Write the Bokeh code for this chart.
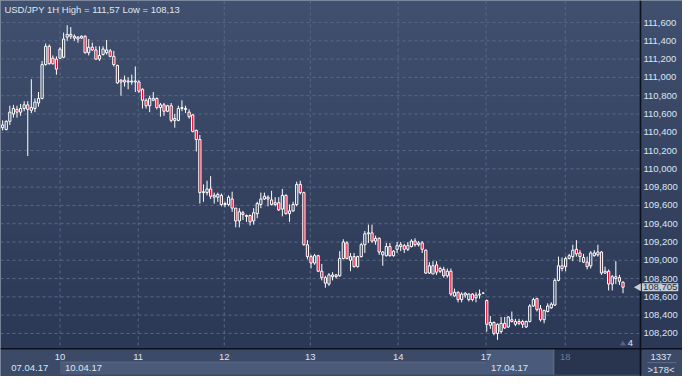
import numpy as np
from bokeh.plotting import figure
from bokeh.models import Range1d, Label, ColumnDataSource
from bokeh.core.properties import value
from bokeh.embed import file_html
from bokeh.resources import INLINE

# ---------------- data (USD/JPY 1H candles) ----------------
opens = [110.45, 110.43, 110.52, 110.60, 110.65, 110.62, 110.66, 110.70, 110.64, 110.66,
         110.72, 110.77, 111.14, 111.34, 111.21, 111.20, 111.21, 111.22, 111.44, 111.47,
         111.45, 111.42, 111.43, 111.45, 111.27, 111.33, 111.30, 111.20, 111.25, 111.27,
         111.29, 111.23, 111.13, 110.95, 110.97, 110.95, 110.95, 110.96, 110.95, 110.87,
         110.75, 110.69, 110.75, 110.77, 110.67, 110.70, 110.63, 110.69, 110.53, 110.53,
         110.66, 110.65, 110.62, 110.59, 110.42, 110.32, 109.74, 109.74, 109.78, 109.69,
         109.69, 109.71, 109.61, 109.61, 109.67, 109.57, 109.43, 109.52, 109.49, 109.49,
         109.43, 109.51, 109.61, 109.67, 109.69, 109.66, 109.61, 109.63, 109.56, 109.71,
         109.51, 109.54, 109.61, 109.83, 109.74, 109.17, 109.04, 108.97, 109.05, 108.88,
         108.81, 108.74, 108.82, 108.84, 108.83, 109.02, 109.19, 109.00, 109.04, 108.93,
         109.04, 109.17, 109.29, 109.30, 109.21, 109.24, 109.06, 109.05, 109.15, 109.05,
         109.12, 109.15, 109.16, 109.12, 109.15, 109.21, 109.17, 109.19, 109.11, 108.86,
         108.85, 108.95, 108.88, 108.90, 108.83, 108.88, 108.61, 108.65, 108.57, 108.62,
         108.57, 108.63, 108.59, 108.62, 108.64, 108.56, 108.29, 108.32, 108.20, 108.22,
         108.31, 108.27, 108.35, 108.30, 108.33, 108.33, 108.27, 108.33, 108.50, 108.58,
         108.47, 108.35, 108.44, 108.48, 108.51, 108.78, 108.94, 108.93, 109.02, 109.04,
         109.12, 109.08, 108.98, 108.98, 108.94, 109.05, 109.06, 109.09, 108.86, 108.88,
         108.74, 108.80, 108.81, 108.76]
highs = [110.53, 110.53, 110.69, 110.70, 110.69, 110.71, 110.74, 110.74, 110.98, 110.77,
         110.84, 111.18, 111.37, 111.36, 111.24, 111.23, 111.33, 111.49, 111.57, 111.55,
         111.47, 111.45, 111.46, 111.46, 111.42, 111.38, 111.34, 111.34, 111.34, 111.41,
         111.31, 111.29, 111.14, 110.98, 111.02, 111.00, 111.03, 111.12, 110.97, 110.88,
         110.77, 110.80, 110.84, 110.78, 110.72, 110.72, 110.70, 110.72, 110.60, 110.69,
         110.75, 110.69, 110.65, 110.60, 110.43, 110.37, 109.83, 109.87, 109.92, 109.74,
         109.74, 109.73, 109.64, 109.71, 109.75, 109.57, 109.57, 109.54, 109.50, 109.50,
         109.57, 109.64, 109.74, 109.74, 109.71, 109.76, 109.69, 109.69, 109.78, 109.72,
         109.61, 109.64, 109.86, 109.87, 109.75, 109.22, 109.06, 109.07, 109.06, 108.96,
         108.83, 108.86, 108.87, 108.85, 109.10, 109.23, 109.21, 109.08, 109.08, 109.05,
         109.19, 109.32, 109.39, 109.39, 109.27, 109.25, 109.10, 109.19, 109.19, 109.11,
         109.20, 109.20, 109.18, 109.20, 109.23, 109.24, 109.21, 109.21, 109.12, 108.98,
         108.99, 108.99, 108.93, 108.93, 108.91, 108.91, 108.69, 108.66, 108.65, 108.65,
         108.64, 108.64, 108.65, 108.68, 108.65, 108.57, 108.39, 108.33, 108.31, 108.38,
         108.38, 108.39, 108.44, 108.36, 108.36, 108.35, 108.34, 108.52, 108.59, 108.59,
         108.51, 108.46, 108.53, 108.54, 108.80, 109.04, 109.03, 109.04, 109.07, 109.17,
         109.22, 109.11, 109.07, 109.04, 109.10, 109.11, 109.17, 109.10, 108.93, 108.90,
         108.84, 108.99, 108.84, 108.77]
lows = [110.42, 110.42, 110.48, 110.56, 110.56, 110.58, 110.63, 110.14, 110.61, 110.62,
        110.68, 110.76, 111.13, 111.14, 111.14, 111.03, 111.20, 111.21, 111.40, 111.42,
        111.40, 111.38, 111.42, 111.26, 111.24, 111.29, 111.19, 111.18, 111.24, 111.25,
        111.22, 111.12, 110.93, 110.80, 110.90, 110.87, 110.92, 110.84, 110.83, 110.66,
        110.66, 110.62, 110.74, 110.65, 110.57, 110.58, 110.62, 110.51, 110.45, 110.52,
        110.63, 110.61, 110.55, 110.40, 110.19, 109.62, 109.64, 109.71, 109.67, 109.62,
        109.64, 109.59, 109.58, 109.59, 109.53, 109.36, 109.36, 109.44, 109.42, 109.38,
        109.39, 109.46, 109.57, 109.66, 109.59, 109.60, 109.59, 109.54, 109.48, 109.50,
        109.42, 109.53, 109.59, 109.72, 109.16, 109.01, 108.91, 108.95, 108.87, 108.78,
        108.70, 108.72, 108.78, 108.80, 108.82, 109.01, 109.01, 108.88, 108.92, 108.92,
        109.03, 109.08, 109.19, 109.19, 109.17, 109.06, 108.94, 109.04, 109.04, 109.04,
        109.08, 109.10, 109.08, 109.10, 109.14, 109.15, 109.15, 109.08, 108.85, 108.85,
        108.85, 108.84, 108.86, 108.81, 108.81, 108.61, 108.60, 108.54, 108.54, 108.59,
        108.55, 108.55, 108.54, 108.58, 108.64, 108.22, 108.25, 108.18, 108.13, 108.20,
        108.25, 108.26, 108.32, 108.28, 108.29, 108.26, 108.26, 108.32, 108.49, 108.44,
        108.33, 108.31, 108.43, 108.47, 108.50, 108.77, 108.88, 108.88, 109.01, 108.99,
        109.04, 108.98, 108.97, 108.90, 108.91, 109.04, 109.04, 108.84, 108.85, 108.67,
        108.67, 108.74, 108.73, 108.64]
closes = [110.48, 110.52, 110.62, 110.66, 110.62, 110.66, 110.70, 110.65, 110.67, 110.73,
          110.77, 111.14, 111.34, 111.15, 111.15, 111.09, 111.31, 111.42, 111.47, 111.45,
          111.43, 111.44, 111.45, 111.27, 111.33, 111.30, 111.20, 111.24, 111.31, 111.30,
          111.23, 111.14, 110.94, 110.97, 110.95, 110.96, 110.96, 110.95, 110.85, 110.75,
          110.69, 110.77, 110.77, 110.67, 110.70, 110.63, 110.69, 110.53, 110.55, 110.66,
          110.67, 110.66, 110.57, 110.41, 110.32, 109.74, 109.75, 109.78, 109.70, 109.71,
          109.72, 109.61, 109.62, 109.69, 109.57, 109.43, 109.53, 109.50, 109.48, 109.42,
          109.52, 109.62, 109.67, 109.70, 109.67, 109.61, 109.63, 109.55, 109.71, 109.51,
          109.54, 109.61, 109.83, 109.74, 109.17, 109.04, 108.97, 109.05, 108.88, 108.81,
          108.75, 108.84, 108.84, 108.82, 109.02, 109.20, 109.02, 109.04, 108.93, 109.04,
          109.17, 109.29, 109.30, 109.21, 109.24, 109.09, 109.09, 109.15, 109.05, 109.10,
          109.16, 109.17, 109.12, 109.16, 109.21, 109.17, 109.19, 109.12, 108.86, 108.94,
          108.94, 108.87, 108.91, 108.83, 108.88, 108.63, 108.65, 108.57, 108.63, 108.64,
          108.63, 108.57, 108.62, 108.63, 108.64, 108.30, 108.32, 108.20, 108.30, 108.31,
          108.26, 108.38, 108.33, 108.33, 108.31, 108.30, 108.33, 108.50, 108.57, 108.46,
          108.35, 108.45, 108.50, 108.52, 108.78, 108.94, 108.91, 109.02, 109.05, 109.11,
          109.07, 109.04, 109.03, 108.93, 109.08, 109.08, 109.09, 108.86, 108.88, 108.74,
          108.82, 108.82, 108.77, 108.705]

day_ticks = [16.0, 37.8, 61.8, 85.8, 110.3, 134.8, 156.9]
day_labels = ["10", "11", "12", "13", "14", "17", "18"]
week_ticks = [1.0, 16.0, 134.8]
week_labels = ["07.04.17", "10.04.17", "17.04.17"]
price_ticks = [108.2, 108.4, 108.6, 108.8, 109.0, 109.2, 109.4, 109.6, 109.8,
               110.0, 110.2, 110.4, 110.6, 110.8, 111.0, 111.2, 111.4, 111.6]
price_labels = ["108,200", "108,400", "108,600", "108,800", "109,000", "109,200",
                "109,400", "109,600", "109,800", "110,000", "110,200", "110,400",
                "110,600", "110,800", "111,000", "111,200", "111,400", "111,600"]
symbol = "USD/JPY 1H"
bar_counter = "1337"
visible_bars = ">178<"
volume_mark = "4"

# ---------------- layout helpers (reference pixel -> data) ----------------
X0_PX, X_STEP = 2.2, 3.67
Y0_PRICE, Y_STEP = 111.841, 0.01049


def px2x(px):
    return (px - X0_PX) / X_STEP


def py2y(py):
    return Y0_PRICE - py * Y_STEP


FONT = value("Liberation Sans")
FS = "9.5px"
TXT = "#dbe5f4"

p = figure(width=682, height=376, output_backend="svg", toolbar_location=None,
           x_range=Range1d(px2x(0), px2x(698)), y_range=Range1d(py2y(392), py2y(0)),
           x_axis_location=None, y_axis_location=None, min_border=0,
           background_fill_color="#2c3955", border_fill_color="#2c3955")
p.grid.visible = False
p.outline_line_color = "#8f9aad"
p.outline_line_width = 2

# gradient background for chart + price panel
N = 64
img = np.zeros((N, 1), dtype=np.uint32)
view = img.view(dtype=np.uint8).reshape((N, 1, 4))
top_c = np.array([65, 80, 110])
bot_c = np.array([43, 56, 86])
for r in range(N):
    t = r / (N - 1)
    cc = bot_c + (top_c - bot_c) * t
    view[r, 0, :3] = cc.astype(np.uint8)
    view[r, 0, 3] = 255
p.image_rgba(image=[img], x=px2x(0), y=py2y(363), dw=px2x(698) - px2x(0),
             dh=py2y(0) - py2y(363))

# bottom strip
strip_l = [px2x(0), px2x(61), px2x(497), px2x(565), px2x(567), px2x(656)]
strip_r = [px2x(655), px2x(497), px2x(565), px2x(567), px2x(655), px2x(698)]
strip_b = [py2y(392), py2y(390), py2y(390), py2y(390), py2y(390), py2y(392)]
strip_t = [py2y(363), py2y(377), py2y(363), py2y(363), py2y(363), py2y(363)]
strip_c = ["#3c4a67", "#4b5a78", "#4a5a7a", "#5a6986", "#29354f", "#3c4a67"]
p.quad(left=strip_l, right=strip_r, bottom=strip_b, top=strip_t,
       fill_color=strip_c, line_color=None)
p.segment(x0=[px2x(61)], y0=[py2y(377)], x1=[px2x(497)], y1=[py2y(377)],
          line_color="#5a6986", line_width=1)

# grid
p.segment(x0=[px2x(0)] * len(price_ticks), y0=price_ticks,
          x1=[px2x(655)] * len(price_ticks), y1=price_ticks,
          line_color="#5a6986", line_width=1, line_dash="3 3")
p.segment(x0=day_ticks, y0=[py2y(0)] * len(day_ticks), x1=day_ticks,
          y1=[py2y(363)] * len(day_ticks),
          line_color="#5a6986", line_width=1, line_dash="3 3")

# separators
p.segment(x0=[px2x(655), px2x(0)], y0=[py2y(0), py2y(363)],
          x1=[px2x(655), px2x(698)], y1=[py2y(392), py2y(363)],
          line_color="#0b111d", line_width=1.6)
p.segment(x0=[px2x(662)], y0=[py2y(377.5)], x1=[px2x(692)], y1=[py2y(377.5)],
          line_color="#5d6b86", line_width=1)

# candles
o = np.array(opens)
h = np.array(highs)
l = np.array(lows)
c = np.array(closes)
idx = np.arange(len(o))
up = c >= o
body_top = np.maximum(o, c)
body_bot = np.minimum(o, c)
src = ColumnDataSource(dict(
    x=idx, h=h, l=l, bt=body_top, bb=body_bot,
    fill=["#1f2b45" if u else "#e8062f" for u in up],
    alpha=[0.0 if u else 1.0 for u in up],
))
p.segment(x0="x", y0="h", x1="x", y1="bt", source=src, line_color="white", line_width=1)
p.segment(x0="x", y0="bb", x1="x", y1="l", source=src, line_color="white", line_width=1)
p.vbar(x="x", width=0.62, top="bt", bottom="bb", source=src,
       fill_color="fill", fill_alpha="alpha", line_color="white", line_width=1)

# price labels (right panel)
p.text(x=[px2x(658)] * len(price_ticks), y=price_ticks, text=price_labels,
       text_font=FONT, text_font_size=FS, text_color=TXT,
       text_align="left", text_baseline="middle")

# day labels
day_cols = [TXT] * (len(day_labels) - 1) + ["#6b7b98"]
p.text(x=day_ticks, y=[py2y(371.5)] * len(day_ticks), text=day_labels,
       text_font=FONT, text_font_size=FS, text_color=day_cols,
       text_align="center", text_baseline="middle")
p.text(x=week_ticks, y=[py2y(383)] * len(week_ticks), text=week_labels,
       text_font=FONT, text_font_size=FS, text_color=TXT, x_offset=5,
       text_align="left", text_baseline="middle")

# right-bottom box
p.text(x=[px2x(676), px2x(676)], y=[py2y(371.5), py2y(385)],
       text=[bar_counter, visible_bars], text_font=FONT, text_font_size=FS,
       text_color=TXT, text_align="center", text_baseline="middle")

# title
hi_txt = f"{max(highs):.2f}".replace(".", ",")
lo_txt = f"{min(lows):.2f}".replace(".", ",")
title = f"{symbol} High = {hi_txt} Low = {lo_txt}"
p.text(x=[px2x(4)], y=[py2y(9)], text=[title], text_font=FONT, text_font_size=FS,
       text_color="#dfe6f1", text_align="left", text_baseline="middle")

# volume marker "4"
p.scatter(x=[px2x(637)], y=[py2y(358)], marker="triangle", size=6,
          fill_color="#56637e", line_color=None)
p.text(x=[px2x(642)], y=[py2y(357.5)], text=[volume_mark], text_font=FONT,
       text_font_size=FS, text_color=TXT, text_align="left", text_baseline="middle")

# current price marker
last_txt = f"{closes[-1]:.3f}".replace(".", ",")
p.scatter(x=[px2x(653)], y=[closes[-1]], marker="triangle", angle=np.pi / 2, size=8,
          fill_color="#c9cdd5", line_color=None)
p.add_layout(Label(x=px2x(656.5), y=closes[-1], text=last_txt, text_font="Liberation Sans",
                   text_font_size=FS, text_color="#23304a", text_align="left",
                   text_baseline="middle", background_fill_color="#c9cdd5", padding=1))

open("out.html", "w").write(file_html(p, INLINE))
